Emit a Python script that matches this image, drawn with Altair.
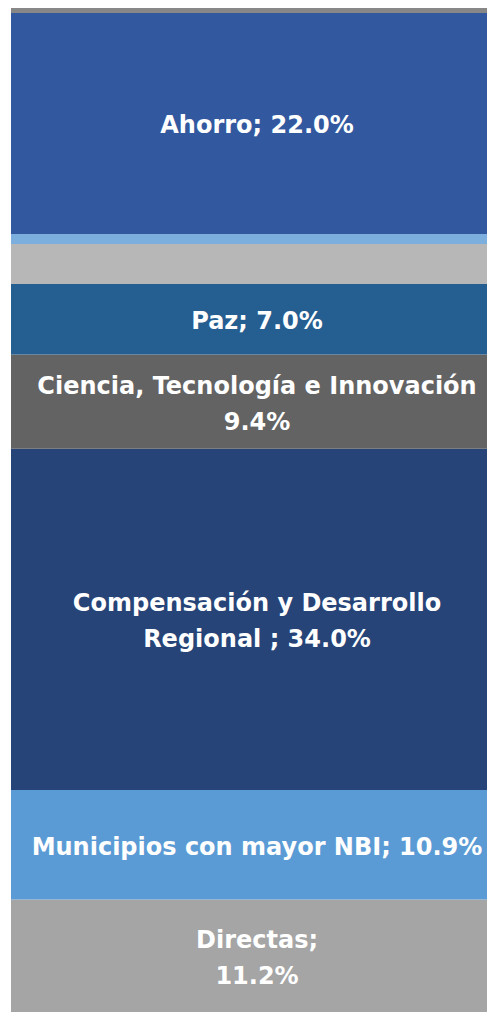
import altair as alt
import pandas as pd

categories = ["Directas", "Municipios con mayor NBI", "Compensación y Desarrollo Regional",
              "Ciencia, Tecnología e Innovación", "Paz", "Otros A", "Otros B", "Ahorro", "Otros C"]
values = [11.2, 10.9, 34.0, 9.4, 7.0, 4.0, 1.0, 22.0, 0.5]
labels = ["Directas;\n11.2%", "Municipios con mayor NBI; 10.9%",
          "Compensación y Desarrollo\nRegional ; 34.0%",
          "Ciencia, Tecnología e Innovación\n9.4%", "Paz; 7.0%", "", "", "Ahorro; 22.0%", ""]
colors = ["#A5A5A5", "#5B9BD5", "#264478", "#636363", "#255E91", "#B7B7B7", "#7CAFDD", "#3259A0", "#878787"]

df = pd.DataFrame({"cat": categories, "value": values, "label": labels,
                   "order": list(range(len(categories)))})

W = 476
H = 1004
LINE_H = 36
# half a line height expressed in data units (percent of the 0-100 axis)
HALF_LINE = (LINE_H / 2) / (H / 100)

base = alt.Chart(df).transform_stack(
    stack="value", groupby=[], as_=["y0", "y1"], sort=[alt.SortField("order", order="ascending")]
).transform_calculate(mid="(datum.y0 + datum.y1) / 2")

yscale = alt.Scale(domain=[0, 100], nice=False, zero=True)

bars = base.mark_rect().encode(
    x=alt.value(0), x2=alt.value(W),
    y=alt.Y("y0:Q", scale=yscale, axis=None),
    y2="y1:Q",
    color=alt.Color("cat:N", scale=alt.Scale(domain=categories, range=colors), legend=None),
)

text = base.transform_filter("datum.label != ''").transform_calculate(
    nlines="split(datum.label, '\\n').length"
).transform_calculate(
    ytext=f"datum.mid + (datum.nlines - 1) * {HALF_LINE}"
).mark_text(
    color="white", fontWeight="bold", fontSize=24, font="DejaVu Sans",
    lineBreak="\n", lineHeight=LINE_H, baseline="middle", align="center", dy=3).encode(
    x=alt.value(246),
    y=alt.Y("ytext:Q", scale=yscale, axis=None),
    text="label:N",
)

chart = (bars + text).properties(
    width=W, height=H,
    padding={"left": 3, "top": 0, "right": 0, "bottom": 0},
    autosize=alt.AutoSizeParams(type="none"),
).configure_view(stroke=None).configure(background="white")

chart.save("out.html", embed_options={"renderer": "svg", "actions": False})
